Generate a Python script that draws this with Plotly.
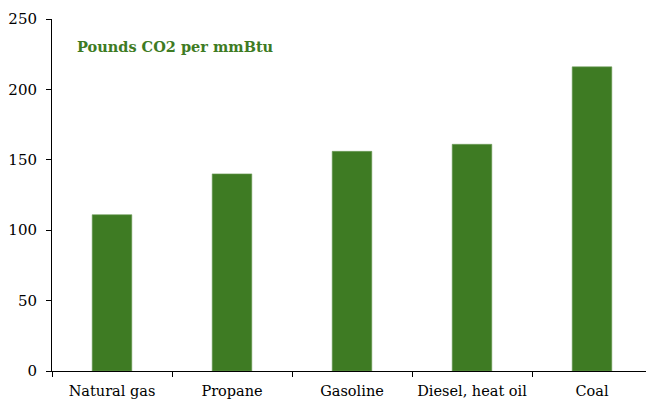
import plotly.graph_objects as go

categories = ["Natural gas", "Propane", "Gasoline", "Diesel, heat oil", "Coal"]
co2_lbs_per_mmbtu = [111, 140, 156, 161, 216]
y_ticks = [0, 50, 100, 150, 200, 250]
title_text = "Pounds CO2 per mmBtu"

green = "#3e7b23"
font_fam = "'DejaVu Serif', Georgia, serif"

fig = go.Figure(go.Bar(
    x=categories, y=co2_lbs_per_mmbtu,
    marker=dict(color=green, line=dict(color="#6f9c5a", width=0.6)),
    width=0.33,
))

# page body has an 8px default margin, so the figure is sized/offset to compensate
fig.update_layout(
    width=646, height=393,
    margin=dict(l=44, r=2, t=11, b=30),
    plot_bgcolor="white", paper_bgcolor="white",
    font=dict(family=font_fam, size=14, color="black"),
    showlegend=False,
    annotations=[dict(
        text="<b>" + title_text + "</b>", x=0.038, y=0.922,
        xref="paper", yref="paper", xanchor="left", yanchor="middle",
        showarrow=False, font=dict(family=font_fam, size=14.5, color=green),
    )],
)
fig.update_xaxes(
    showline=True, linecolor="black", linewidth=1, automargin=False,
    ticks="outside", ticklen=5, tickcolor="black", tickson="boundaries",
    showgrid=False, tickfont=dict(size=14.5), ticklabelstandoff=7,
)
fig.update_yaxes(
    range=[0, 250], tickvals=y_ticks, showline=True, linecolor="black", linewidth=1,
    automargin=False, ticks="outside", ticklen=5, tickcolor="black",
    showgrid=False, zeroline=False, tickfont=dict(size=15), ticklabelstandoff=6,
)

fig.write_html("out.html")
